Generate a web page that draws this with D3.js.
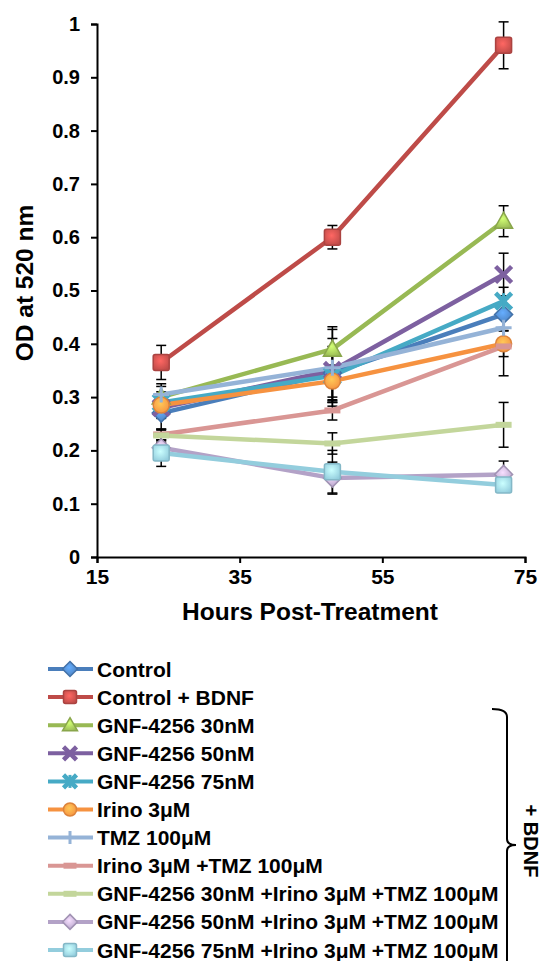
<!DOCTYPE html>
<html>
  <head>
    <meta charset="utf-8" />
    <title>OD at 520 nm</title>
    <script src="https://d3js.org/d3.v7.min.js"></script>
    <style>
        body{
            margin:0;
            background:#fff;
        }
        text{
            font-family: Arial, "Liberation Sans", sans-serif;
            font-weight: bold;
        }
    </style>
  </head>
  <body>
    <svg id="chart">
        <defs></defs>
        <g id="x"></g>
        <g id="y"></g>
        <g id="errors"></g>
        <g id="lines"></g>
        <g id="legend"></g>
        <g id="brace"></g>
    </svg>

    <script>
      // data
      var hours = [24, 48, 72];
      var seriesNames = [
        "Control",
        "Control + BDNF",
        "GNF-4256 30nM",
        "GNF-4256 50nM",
        "GNF-4256 75nM",
        "Irino 3\u03bcM",
        "TMZ 100\u03bcM",
        "Irino 3\u03bcM +TMZ 100\u03bcM",
        "GNF-4256 30nM +Irino 3\u03bcM +TMZ 100\u03bcM",
        "GNF-4256 50nM +Irino 3\u03bcM +TMZ 100\u03bcM",
        "GNF-4256 75nM +Irino 3\u03bcM +TMZ 100\u03bcM"
      ];
      var odValues = [
        [0.270, 0.345, 0.455],
        [0.365, 0.600, 0.960],
        [0.300, 0.390, 0.630],
        [0.280, 0.350, 0.530],
        [0.290, 0.340, 0.480],
        [0.285, 0.330, 0.400],
        [0.305, 0.355, 0.430],
        [0.230, 0.275, 0.395],
        [0.228, 0.213, 0.248],
        [0.205, 0.148, 0.155],
        [0.195, 0.160, 0.135]
      ];
      var odErrors = [
        [0.030, 0.050, 0.030],
        [0.032, 0.022, 0.044],
        [0.020, 0.042, 0.029],
        [0.020, 0.060, 0.040],
        [0.020, 0.050, 0.026],
        [0.020, 0.030, 0.024],
        [0.020, 0.072, 0.020],
        [0.010, 0.018, 0.055],
        [0.010, 0.020, 0.042],
        [0.010, 0.030, 0.025],
        [0.025, 0.040, 0.010]
      ];
      var xTicks = [15, 35, 55, 75];
      var yTicks = [0, 0.1, 0.2, 0.3, 0.4, 0.5, 0.6, 0.7, 0.8, 0.9, 1];

      // look of each series
      var colors = ["#4A7EBB", "#BE4B48", "#98B954", "#7D60A0", "#46AAC5", "#F69240",
                    "#95B3D7", "#D99694", "#C3D69B", "#B3A2C7", "#93CDDD"];
      var markers = ["diamond", "square", "triangle", "x", "star", "circle",
                     "plus", "dash", "dash", "diamond", "square"];

      var width = 543;
      var height = 961;
      var margin = {top: 24, right: 18, bottom: 404, left: 97};

      var svg = d3.select("#chart")
        .attr("width", width)
        .attr("height", height);

      var x = d3.scaleLinear()
        .domain([15, 75])
        .range([margin.left, width - margin.right]);

      var y = d3.scaleLinear()
        .domain([0, 1])
        .range([height - margin.bottom, margin.top]);

      // gradients for marker fills
      var defs = svg.select("defs");
      colors.forEach(function(c, i) {
        var g = defs.append("radialGradient")
          .attr("id", "grad" + i)
          .attr("cx", "45%").attr("cy", "40%").attr("r", "65%");
        g.append("stop").attr("offset", "0%").attr("stop-color", d3.color(c).brighter(0.9));
        g.append("stop").attr("offset", "100%").attr("stop-color", c);
      });

      // axes
      var xAxis = d3.axisBottom(x).tickValues(xTicks).tickSizeOuter(0).tickSize(6).tickPadding(6);
      var gx = svg.select("#x")
        .attr("transform", "translate(0, " + y(0) + ")")
        .call(xAxis);
      gx.select(".domain").attr("stroke-width", 2);
      gx.selectAll(".tick line").attr("stroke-width", 2);
      gx.selectAll("text").attr("font-size", 21).attr("fill", "#000");

      var yAxis = d3.axisLeft(y).tickValues(yTicks).tickSizeOuter(0).tickSize(6).tickPadding(11)
        .tickFormat(function(d) { return d3.format("")(+d.toFixed(1)); });
      var gy = svg.select("#y")
        .attr("transform", "translate(" + margin.left + ", 0)")
        .call(yAxis);
      gy.select(".domain").attr("stroke-width", 2);
      gy.selectAll(".tick line").attr("stroke-width", 2);
      gy.selectAll("text").attr("font-size", 20).attr("fill", "#000");

      svg.append("text")
        .attr("x", x(45) - 1)
        .attr("y", 620)
        .attr("text-anchor", "middle")
        .attr("font-size", 24.5)
        .text("Hours Post-Treatment");

      svg.append("text")
        .attr("transform", "translate(33, 283) rotate(-90)")
        .attr("text-anchor", "middle")
        .attr("font-size", 24.5)
        .text("OD at 520 nm");

      var series = seriesNames.map(function(name, i) {
        return {
          name: name,
          index: i,
          points: hours.map(function(h, j) {
            return {hour: h, od: odValues[i][j], err: odErrors[i][j]};
          })
        };
      });

      // error bars
      var errG = svg.select("#errors");
      series.forEach(function(s) {
        s.points.forEach(function(p) {
          var cx = x(p.hour);
          var y1 = y(p.od + p.err), y2 = y(p.od - p.err);
          errG.append("line").attr("x1", cx).attr("x2", cx).attr("y1", y1).attr("y2", y2)
            .attr("stroke", "#000").attr("stroke-width", 1.5);
          [y1, y2].forEach(function(yy) {
            errG.append("line").attr("x1", cx - 5).attr("x2", cx + 5).attr("y1", yy).attr("y2", yy)
              .attr("stroke", "#000").attr("stroke-width", 1.5);
          });
        });
      });

      function drawMarker(g, type, i, size) {
        var c = colors[i];
        var edge = d3.color(c).darker(0.3);
        var fill = "url(#grad" + i + ")";
        var h = size / 2;
        if (type === "square") {
          g.append("rect").attr("x", -h).attr("y", -h).attr("width", size).attr("height", size)
            .attr("rx", 2).attr("fill", fill).attr("stroke", edge).attr("stroke-width", 1.5);
        } else if (type === "diamond") {
          g.append("path").attr("d", "M0," + (-h - 1) + "L" + (h + 1) + ",0L0," + (h + 1) + "L" + (-h - 1) + ",0Z")
            .attr("fill", fill).attr("stroke", edge).attr("stroke-width", 1.5);
        } else if (type === "triangle") {
          g.append("path").attr("d", "M0," + (-h - 1) + "L" + (h + 1) + "," + (h - 1) + "L" + (-h - 1) + "," + (h - 1) + "Z")
            .attr("fill", fill).attr("stroke", edge).attr("stroke-width", 1.5);
        } else if (type === "circle") {
          g.append("circle").attr("r", h).attr("fill", fill).attr("stroke", edge).attr("stroke-width", 1.5);
        } else if (type === "x") {
          g.append("path").attr("d", "M" + (-h) + "," + (-h) + "L" + h + "," + h + "M" + h + "," + (-h) + "L" + (-h) + "," + h)
            .attr("stroke", c).attr("stroke-width", 4.5);
        } else if (type === "star") {
          g.append("path").attr("d", "M" + (-h) + "," + (-h) + "L" + h + "," + h + "M" + h + "," + (-h) + "L" + (-h) + "," + h)
            .attr("stroke", c).attr("stroke-width", 4.5);
          g.append("path").attr("d", "M0," + (-h) + "L0," + h)
            .attr("stroke", c).attr("stroke-width", 3);
        } else if (type === "plus") {
          g.append("path").attr("d", "M" + (-h) + ",0L" + h + ",0M0," + (-h) + "L0," + h)
            .attr("stroke", c).attr("stroke-width", 3);
        } else if (type === "dash") {
          g.append("rect").attr("x", -h).attr("y", -3).attr("width", size).attr("height", 6)
            .attr("fill", c);
        }
      }

      var line = d3.line()
        .x(function(d) { return x(d.hour); })
        .y(function(d) { return y(d.od); });

      var linesG = svg.select("#lines");
      series.forEach(function(s) {
        linesG.append("path")
          .attr("d", line(s.points))
          .attr("fill", "none")
          .attr("stroke", colors[s.index])
          .attr("stroke-width", 4.5)
          .attr("stroke-linejoin", "round");
      });
      series.forEach(function(s) {
        s.points.forEach(function(p) {
          var g = linesG.append("g").attr("transform", "translate(" + x(p.hour) + "," + y(p.od) + ")");
          drawMarker(g, markers[s.index], s.index, 16);
        });
      });

      // legend
      var rowY = d3.scaleLinear().domain([0, 1]).range([669, 697.1]);
      var legend = svg.select("#legend");
      series.forEach(function(s) {
        var g = legend.append("g").attr("transform", "translate(0," + rowY(s.index) + ")");
        g.append("line").attr("x1", 48).attr("x2", 93).attr("y1", 0).attr("y2", 0)
          .attr("stroke", colors[s.index]).attr("stroke-width", 4);
        var m = g.append("g").attr("transform", "translate(70,0)");
        drawMarker(m, markers[s.index], s.index, 13);
        g.append("text").attr("x", 97).attr("y", 7.5).attr("font-size", 21).text(s.name);
      });

      // brace for the + BDNF group
      var bx = 507, braceTop = 709, braceMid = 845, braceBottom = 961;
      svg.select("#brace").append("path")
        .attr("d", "M492," + braceTop + "Q" + bx + "," + braceTop + " " + bx + "," + (braceTop + 8) +
                   "L" + bx + "," + (braceMid - 6) + "Q" + bx + "," + braceMid + " " + (bx + 9) + "," + braceMid +
                   "Q" + bx + "," + braceMid + " " + bx + "," + (braceMid + 6) + "L" + bx + "," + braceBottom)
        .attr("fill", "none").attr("stroke", "#000").attr("stroke-width", 2);
      svg.select("#brace").append("text")
        .attr("transform", "translate(524," + (braceMid - 4) + ") rotate(90)")
        .attr("text-anchor", "middle")
        .attr("font-size", 20)
        .text("+ BDNF");
    </script>
  </body>
</html>
